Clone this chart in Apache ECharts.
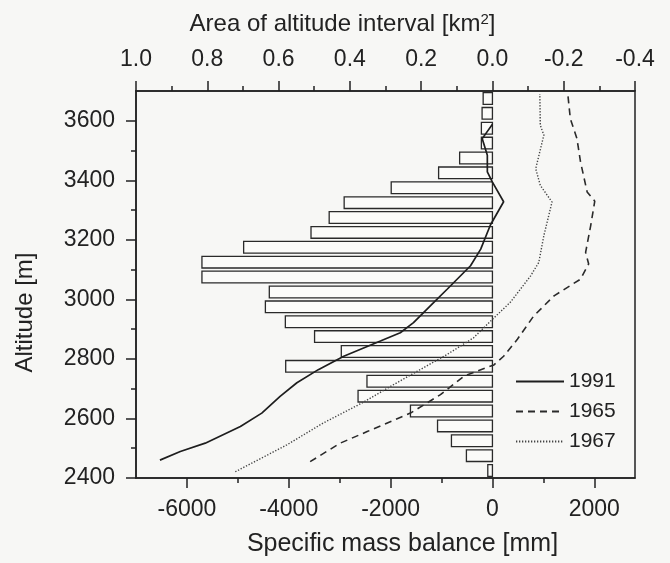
<!DOCTYPE html>
<html><head><meta charset="utf-8">
<script src="https://cdn.jsdelivr.net/npm/echarts@6/dist/echarts.min.js"></script>
<style>html,body{margin:0;padding:0;background:#f7f7f5}#c{width:670px;height:563px}</style>
</head><body><div id="c"></div>
<script>
// ---- data ----
// altitude intervals (lower bound, m); each interval is 50 m
const bandLow = [2400,2450,2500,2550,2600,2650,2700,2750,2800,2850,2900,2950,3000,3050,3100,3150,3200,3250,3300,3350,3400,3450,3500,3550,3600,3650];
const bandStep = 50;
// area of altitude interval (km2)
const bandArea = [0.013,0.073,0.115,0.154,0.230,0.377,0.352,0.580,0.424,0.499,0.581,0.637,0.626,0.815,0.815,0.698,0.509,0.458,0.416,0.284,0.151,0.092,0.031,0.031,0.029,0.026];

// specific mass balance profiles (mm) vs altitude (m)
const alt1991 = [2460,2489,2517,2573,2618,2674,2720,2764,2809,2860,2888,2922,2978,3034,3113,3169,3250,3328,3394,3428,3484,3540,3588];
const mb1991  = [-6530,-6130,-5640,-4950,-4530,-4170,-3840,-3420,-2920,-2200,-1810,-1550,-1220,-890,-430,-230,-40,220,0,-100,-100,-200,0];

const alt1965 = [2455,2517,2556,2618,2680,2742,2780,2809,2866,2944,3012,3068,3119,3158,3248,3330,3361,3462,3540,3607,3690];
const mb1965  = [-3580,-2990,-2460,-1610,-1020,-560,30,220,490,810,1210,1730,1890,1830,1930,2010,1860,1730,1660,1530,1480];

const alt1967 = [2421,2511,2585,2652,2708,2764,2815,2871,2933,2990,3079,3124,3214,3327,3383,3439,3552,3585,3690];
const mb1967  = [-5050,-4040,-3320,-2560,-2000,-1420,-890,-370,0,350,750,910,1010,1170,940,850,1010,940,930];

const seriesNames = ['1991','1965','1967'];

// axis ticks
const massTicks = [-6000,-4000,-2000,0,2000];
const massMinor = [-5000,-3000,-1000,1000];
const areaTicks = [1.0,0.8,0.6,0.4,0.2,0.0,-0.2,-0.4];
const areaMinor = [0.9,0.7,0.5,0.3,0.1,-0.1,-0.3];
const altTicks  = [2400,2600,2800,3000,3200,3400,3600];
const altMinor  = [2500,2700,2900,3100,3300,3500];

// ---- chart ----
const FONT = '"Liberation Sans", Arial, Helvetica, sans-serif';
const INK = '#222';
const lbl = {fontFamily: FONT, fontSize: 23, color: INK};
const axLine = {show: true, onZero: false, lineStyle: {color: INK, width: 1.5}};
const noLine = {show: false, onZero: false};
const G = {left: 136, right: 35, top: 91, bottom: 85};
const plain = v => String(Math.round(v));

function zip(a, b) { return a.map((v, i) => [v, b[i]]); }

const chart = echarts.init(document.getElementById('c'), null, {renderer: 'canvas'});
chart.setOption({
  backgroundColor: '#f7f7f5',
  animation: false,
  grid: [
    Object.assign({show: true, borderColor: INK, borderWidth: 1.5, backgroundColor: 'transparent'}, G),
    Object.assign({}, G)
  ],
  legend: {
    data: seriesNames,
    orient: 'vertical',
    left: 515, top: 371,
    itemWidth: 48, itemHeight: 14, itemGap: 9,
    padding: 0,
    itemStyle: {opacity: 0},
    textStyle: {fontFamily: FONT, fontSize: 21, color: INK, lineHeight: 21},
    selectedMode: false
  },
  xAxis: [
    { gridIndex: 0, type: 'value', position: 'bottom', min: -7000, max: 2800,
      axisLine: axLine,
      axisTick: {show: true, customValues: massTicks, length: 10, lineStyle: {color: INK, width: 1.5}},
      axisLabel: Object.assign({customValues: massTicks, margin: 20, formatter: plain}, lbl),
      splitLine: {show: false},
      name: 'Specific mass balance [mm]', nameLocation: 'middle', nameGap: 54, nameMoveOverlap: false,
      nameTextStyle: {fontFamily: FONT, fontSize: 25, color: INK, padding: [0, 0, 0, 34]}
    },
    { gridIndex: 0, type: 'value', position: 'top', inverse: true, min: -0.4, max: 1.0,
      axisLine: axLine,
      axisTick: {show: true, customValues: areaTicks, length: 10, lineStyle: {color: INK, width: 1.5}},
      axisLabel: Object.assign({customValues: areaTicks, margin: 20,
        formatter: v => (Math.abs(v) < 1e-9 ? 0 : v).toFixed(1)}, lbl),
      splitLine: {show: false},
      name: '{a|Area of altitude interval [km}{s|2}{a|]}', nameLocation: 'middle', nameGap: 55, nameMoveOverlap: false,
      nameTextStyle: {padding: [0, 86, 0, 0],
        rich: {a: {fontFamily: FONT, fontSize: 24, color: INK},
               s: {fontFamily: FONT, fontSize: 15, color: INK, verticalAlign: 'top'}}}
    },
    { gridIndex: 1, type: 'value', position: 'bottom', min: -7000, max: 2800,
      axisLine: noLine, axisLabel: {show: false}, splitLine: {show: false},
      axisTick: {show: true, customValues: massMinor, length: 5, lineStyle: {color: INK, width: 1.5}}
    },
    { gridIndex: 1, type: 'value', position: 'top', inverse: true, min: -0.4, max: 1.0,
      axisLine: noLine, axisLabel: {show: false}, splitLine: {show: false},
      axisTick: {show: true, customValues: areaMinor, length: 5, lineStyle: {color: INK, width: 1.5}}
    }
  ],
  yAxis: [
    { gridIndex: 0, type: 'value', position: 'left', min: 2400, max: 3700,
      axisLine: axLine,
      axisTick: {show: true, customValues: altTicks, length: 10, lineStyle: {color: INK, width: 1.5}},
      axisLabel: Object.assign({customValues: altTicks, margin: 21, formatter: plain}, lbl),
      splitLine: {show: false},
      name: 'Altitude [m]', nameLocation: 'middle', nameGap: 99, nameMoveOverlap: false,
      nameTextStyle: {fontFamily: FONT, fontSize: 24, color: INK, padding: [0, 56, 0, 0]}
    },
    { gridIndex: 1, type: 'value', position: 'left', min: 2400, max: 3700,
      axisLine: noLine, axisLabel: {show: false}, splitLine: {show: false},
      axisTick: {show: true, customValues: altMinor, length: 5, lineStyle: {color: INK, width: 1.5}}
    }
  ],
  series: [
    { type: 'custom', name: 'area', xAxisIndex: 1, yAxisIndex: 0,
      encode: {x: 1, y: 0},
      data: zip(bandLow, bandArea),
      clip: true, silent: true,
      renderItem: function (params, api) {
        const low = api.value(0), a = api.value(1);
        const pA = api.coord([0, low + bandStep]);
        const pB = api.coord([a, low]);
        const x = Math.min(pA[0], pB[0]), w = Math.abs(pA[0] - pB[0]);
        const y = Math.min(pA[1], pB[1]) + 1.6, h = Math.abs(pA[1] - pB[1]) - 3.2;
        return {type: 'rect', shape: {x: x, y: y, width: w, height: h},
                style: {fill: '#fbfbf9', stroke: '#2a2a2a', lineWidth: 1.3}};
      }
    },
    { type: 'line', name: '1991', xAxisIndex: 0, yAxisIndex: 0, symbol: 'none',
      data: zip(mb1991, alt1991),
      lineStyle: {color: '#1e1e1e', width: 1.7, type: 'solid'}, itemStyle: {color: '#1e1e1e', opacity: 0}
    },
    { type: 'line', name: '1965', xAxisIndex: 0, yAxisIndex: 0, symbol: 'none',
      data: zip(mb1965, alt1965),
      lineStyle: {color: '#2a2a2a', width: 1.6, type: [7, 5]}, itemStyle: {color: '#2a2a2a', opacity: 0}
    },
    { type: 'line', name: '1967', xAxisIndex: 0, yAxisIndex: 0, symbol: 'none',
      data: zip(mb1967, alt1967),
      lineStyle: {color: '#444', width: 1.4, type: [1.3, 1.7]}, itemStyle: {color: '#444', opacity: 0}
    }
  ]
});
</script>
</body></html>
